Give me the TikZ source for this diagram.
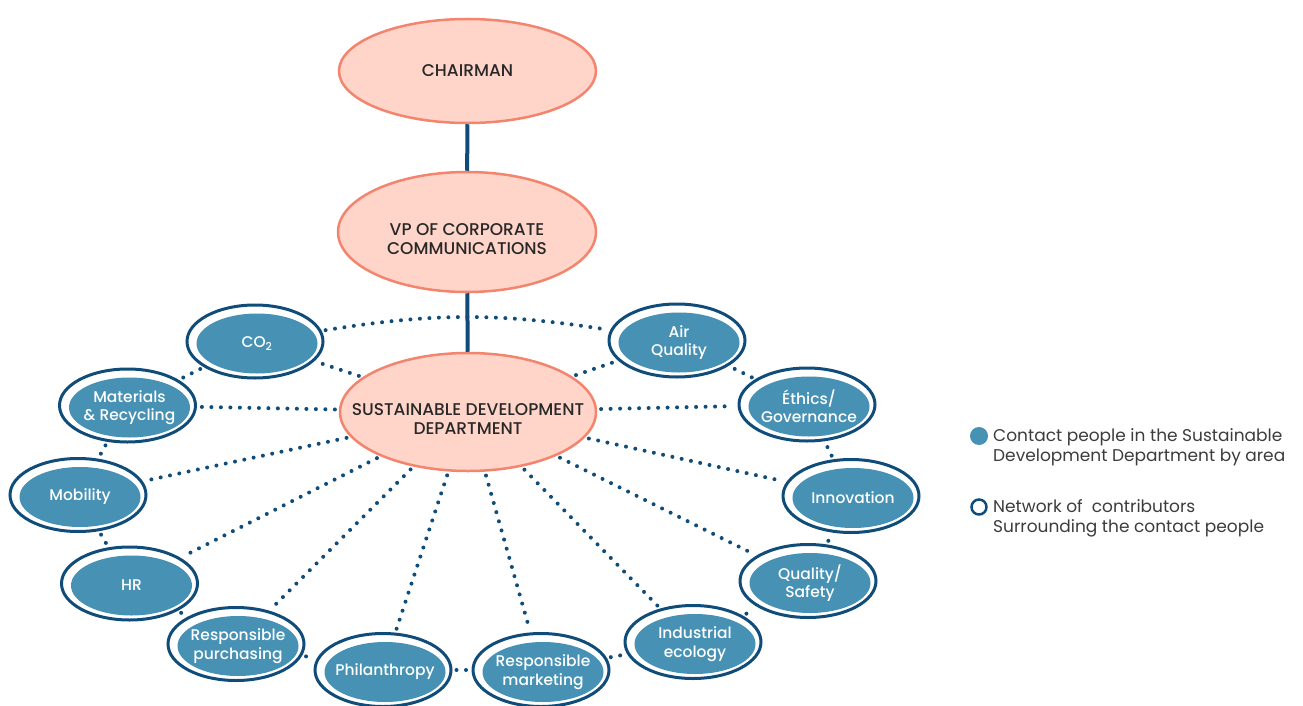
\documentclass[tikz,border=0pt]{standalone}
\usepackage{fontspec}
\setmainfont{Poppins}
\IfFontExistsTF{Poppins Medium}{\newfontfamily\medfont{Poppins Medium}}{\newfontfamily\medfont{Poppins}}
\usetikzlibrary{shapes.geometric}
\definecolor{dblue}{RGB}{16,76,122}
\definecolor{areafill}{RGB}{70,145,180}
\definecolor{salfill}{RGB}{255,213,202}
\definecolor{salline}{RGB}{243,132,110}
\definecolor{headtext}{RGB}{40,40,40}
\definecolor{legtext}{RGB}{60,60,60}
\newcommand{\topstrut}{\rule{0pt}{26pt}}
\begin{document}
\begin{tikzpicture}[x=1pt,y=-1pt,
  head/.style={ellipse, draw=salline, line width=2.5pt, fill=salfill, inner xsep=-45pt, inner ysep=0pt,
    text=headtext, align=center, font=\medfont\fontsize{17}{19}\selectfont},
  ring/.style={ellipse, draw=dblue, line width=3pt, fill=white, inner sep=0pt,
    minimum width=136pt, minimum height=73pt},
  area/.style={ellipse, fill=areafill, text=white, inner xsep=-20pt, inner ysep=-6pt, align=center,
    minimum width=121pt, minimum height=60pt, font=\medfont\fontsize{15.5}{18.5}\selectfont},
  dots/.style={draw=dblue, line width=4pt, line cap=round, dash pattern=on 0pt off 9.5pt,
    shorten <=4pt, shorten >=4pt},
  solid/.style={draw=dblue, line width=4pt},
  legend/.style={anchor=west, align=left, text=legtext, inner sep=0pt,
    font=\fontsize{17}{20}\selectfont}
]
\useasboundingbox (0,0) rectangle (1303,706);

% hierarchy
\node[head, minimum width=257pt, minimum height=104pt] (chair) at (467.5,71) {CHAIRMAN};
\node[head, minimum width=258pt, minimum height=120pt] (vp) at (467,232) {\topstrut VP OF CORPORATE\\COMMUNICATIONS};
\node[head, minimum width=256pt, minimum height=118pt] (sd) at (468,412) {\topstrut SUSTAINABLE DEVELOPMENT\\DEPARTMENT};

\draw[solid] (chair) -- (vp);
\draw[solid] (vp) -- (sd);

% outer rings
\node[ring] (co2)  at (255,341.5) {};
\node[ring] (air)  at (677,340.5) {};
\node[ring] (mat)  at (127.5,405.5) {};
\node[ring] (eth)  at (807,404.5) {};
\node[ring] (mob)  at (78,495) {};
\node[ring] (inn)  at (851,496) {};
\node[ring] (hr)   at (129.5,583.5) {};
\node[ring] (qual) at (808,581) {};
\node[ring] (rp)   at (236,644) {};
\node[ring] (ie)   at (693,642) {};
\node[ring] (phil) at (383,670) {};
\node[ring] (rm)   at (541,670) {};

% inner areas
\node[area] (co2i)  at ([shift={(2,2)}]co2)  {CO\textsubscript{2}};
\node[area] (airi)  at ([shift={(2,2)}]air)  {Air\\Quality};
\node[area] (mati)  at ([shift={(2,2)}]mat)  {Materials\\\& Recycling};
\node[area] (ethi)  at ([shift={(2,2)}]eth)  {Éthics/\\Governance};
\node[area] (mobi)  at ([shift={(2,2)}]mob)  {Mobility};
\node[area] (inni)  at ([shift={(2,2)}]inn)  {Innovation};
\node[area] (hri)   at ([shift={(2,2)}]hr)   {HR};
\node[area] (quali) at ([shift={(2,2)}]qual) {Quality/\\Safety};
\node[area] (rpi)   at ([shift={(2,2)}]rp)   {Responsible\\purchasing};
\node[area] (iei)   at ([shift={(2,2)}]ie)   {Industrial\\ecology};
\node[area] (phili) at ([shift={(2,2)}]phil) {Philanthropy};
\node[area] (rmi)   at ([shift={(2,2)}]rm)   {Responsible\\marketing};

% spokes
\foreach \n in {co2,air,mat,eth,mob,inn,hr,qual,rp,ie,phil,rm}
  \draw[dots] (sd) -- (\n);

% surrounding network
\draw[dots] (co2) to[bend left=9] (air);
\draw[dots] (co2) -- (mat);
\draw[dots] (mat) -- (mob);
\draw[dots] (mob) -- (hr);
\draw[dots] (hr) -- (rp);
\draw[dots] (rp) -- (phil);
\draw[dots] (phil) -- (rm);
\draw[dots] (rm) -- (ie);
\draw[dots] (ie) -- (qual);
\draw[dots] (qual) -- (inn);
\draw[dots] (inn) -- (eth);
\draw[dots] (eth) -- (air);

% legend
\node[circle, fill=areafill, minimum size=18pt, inner sep=0pt] (lg1) at (979,436) {};
\node[circle, draw=dblue, line width=2.5pt, fill=white, minimum size=15pt, inner sep=0pt] (lg2) at (979,507) {};
\node[legend] (lt1) at (993,447) {Contact people in the Sustainable\\Development Department by area};
\node[legend] (lt2) at (993,518) {Network of\ \ contributors\\Surrounding the contact people};
\end{tikzpicture}
\end{document}
